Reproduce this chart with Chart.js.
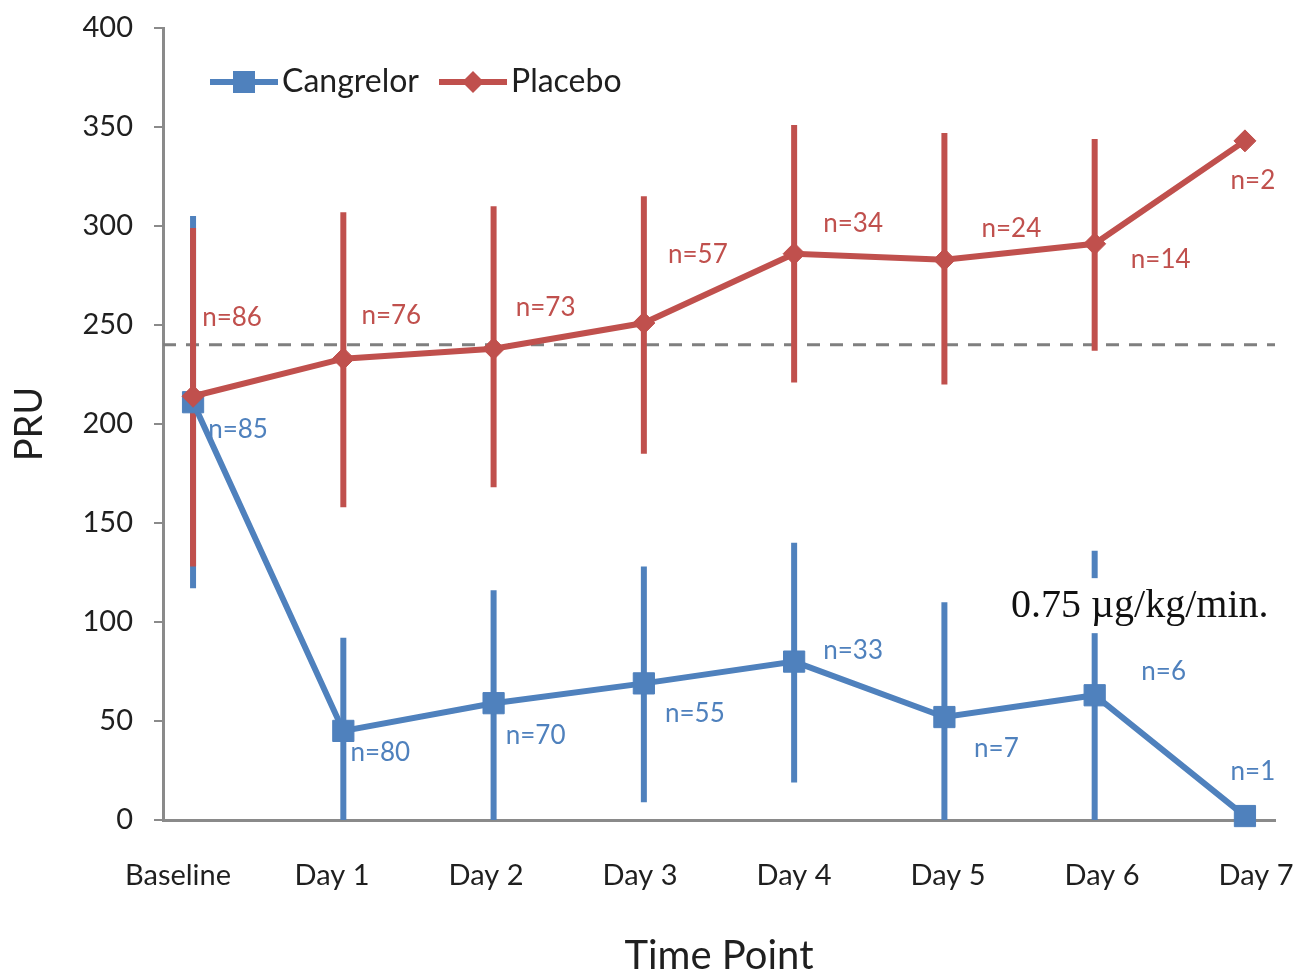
<!DOCTYPE html>
<html>
<head>
<meta charset="utf-8">
<title>PRU by time point</title>
<script src="https://cdn.jsdelivr.net/npm/chart.js@4.4.0/dist/chart.umd.min.js"></script>
<style>
  body { margin: 0; background: #fff; }
  #wrap { width: 1299px; height: 976px; }
</style>
</head>
<body>
<div id="wrap"><canvas id="myChart" width="1299" height="976"></canvas></div>
<script>
const timePoints = ["Baseline", "Day 1", "Day 2", "Day 3", "Day 4", "Day 5", "Day 6", "Day 7"];

// mean PRU with low / high whiskers, n per time point
const cangrelorPru  = [211, 45, 59, 69, 80, 52, 63, 2];
const cangrelorLow  = [117, 0, 0, 9, 19, 0, 0, null];
const cangrelorHigh = [305, 92, 116, 128, 140, 110, 136, null];
const cangrelorN    = [85, 80, 70, 55, 33, 7, 6, 1];

const placeboPru  = [214, 233, 238, 251, 286, 283, 291, 343];
const placeboLow  = [128, 158, 168, 185, 221, 220, 237, null];
const placeboHigh = [299, 307, 310, 315, 351, 347, 344, null];
const placeboN    = [86, 76, 73, 57, 34, 24, 14, 2];

const pruThreshold = 240;
const yMin = 0, yMax = 400, yStep = 50;
const doseNote = "0.75 \u00b5g/kg/min.";

const BLUE = "#4F81BD";
const RED = "#C0504D";
const TEXT = "#1f1f1f";
const AXIS = "#8a8a8a";

Chart.defaults.font.family = "Lato, 'Open Sans', sans-serif";
Chart.defaults.color = TEXT;

// where each "n=" label sits relative to its point (px)
const nLabelShift = {
  placebo:   [[39, -79], [48, -43], [52, -41], [54, -68], [59, -30], [67, -31], [66, 16], [8, 40]],
  cangrelor: [[45, 27], [37, 22], [42, 32], [51, 30], [59, -11], [52, 32], [69, -24], [8, -44]]
};
const notePos = { x: 6.3, y: 108 };

const extras = {
  id: "extras",
  beforeDatasetsDraw(chart) {
    const { ctx, chartArea, scales: { x, y } } = chart;
    ctx.save();
    // threshold line
    const ty = y.getPixelForValue(pruThreshold);
    ctx.strokeStyle = "#7f7f7f";
    ctx.lineWidth = 3;
    ctx.setLineDash([13, 10]);
    ctx.beginPath();
    ctx.moveTo(chartArea.left, ty);
    ctx.lineTo(chartArea.right, ty);
    ctx.stroke();
    ctx.setLineDash([]);

    // whiskers
    ctx.lineWidth = 6;
    [[cangrelorLow, cangrelorHigh, BLUE], [placeboLow, placeboHigh, RED]].forEach(([lo, hi, col]) => {
      ctx.strokeStyle = col;
      lo.forEach((v, i) => {
        if (v == null) return;
        const px = x.getPixelForValue(i);
        ctx.beginPath();
        ctx.moveTo(px, y.getPixelForValue(v));
        ctx.lineTo(px, y.getPixelForValue(hi[i]));
        ctx.stroke();
      });
    });
    ctx.restore();
  },
  afterDatasetsDraw(chart) {
    const { ctx, chartArea, scales: { x, y } } = chart;
    ctx.save();

    // n= labels
    ctx.font = "26px Lato";
    ctx.textAlign = "center";
    ctx.textBaseline = "middle";
    const putN = (vals, ns, shift, col) => {
      ctx.fillStyle = col;
      vals.forEach((v, i) => {
        const px = x.getPixelForValue(i) + shift[i][0];
        const py = y.getPixelForValue(v) + shift[i][1];
        ctx.fillText("n=" + ns[i], px, py);
      });
    };
    putN(placeboPru, placeboN, nLabelShift.placebo, RED);
    putN(cangrelorPru, cangrelorN, nLabelShift.cangrelor, BLUE);

    // dose note on a white box
    const nx = x.getPixelForValue(notePos.x);
    const ny = y.getPixelForValue(notePos.y);
    ctx.font = "40px 'Liberation Serif', 'DejaVu Serif', serif";
    const w = ctx.measureText(doseNote).width;
    ctx.fillStyle = "#fff";
    ctx.fillRect(nx - w / 2 - 6, ny - 28, w + 12, 55);
    ctx.fillStyle = "#111";
    ctx.fillText(doseNote, nx, ny);

    // legend inside the plot
    const ly = chartArea.top + 54;
    let lx = chartArea.left + 47;
    ctx.font = "32px Lato";
    ctx.textAlign = "left";
    ctx.lineWidth = 6;
    [["Cangrelor", BLUE, "square"], ["Placebo", RED, "diamond"]].forEach(([name, col, shape]) => {
      ctx.strokeStyle = col;
      ctx.fillStyle = col;
      ctx.beginPath();
      ctx.moveTo(lx, ly);
      ctx.lineTo(lx + 68, ly);
      ctx.stroke();
      const cx = lx + 34;
      ctx.beginPath();
      if (shape === "square") {
        ctx.rect(cx - 11, ly - 11, 22, 22);
      } else {
        ctx.moveTo(cx, ly - 11);
        ctx.lineTo(cx + 11, ly);
        ctx.lineTo(cx, ly + 11);
        ctx.lineTo(cx - 11, ly);
        ctx.closePath();
      }
      ctx.fill();
      ctx.fillStyle = TEXT;
      ctx.fillText(name, lx + 72, ly);
      lx += 72 + ctx.measureText(name).width + 20;
    });
    ctx.restore();
  }
};

const ctx = document.getElementById("myChart");

new Chart(ctx, {
  type: "line",
  data: {
    datasets: [
      {
        label: "Cangrelor",
        data: cangrelorPru.map((v, i) => ({ x: i, y: v })),
        borderColor: BLUE,
        backgroundColor: BLUE,
        borderWidth: 6,
        pointStyle: "rect",
        pointRadius: 15,
        pointBorderWidth: 1,
        pointBackgroundColor: BLUE,
        pointBorderColor: BLUE,
        order: 1,
        clip: false
      },
      {
        label: "Placebo",
        data: placeboPru.map((v, i) => ({ x: i, y: v })),
        borderColor: RED,
        backgroundColor: RED,
        borderWidth: 6,
        pointStyle: "rectRot",
        pointRadius: 11,
        pointBorderWidth: 1,
        pointBackgroundColor: RED,
        pointBorderColor: RED,
        order: 0,
        clip: false
      }
    ]
  },
  options: {
    responsive: false,
    animation: false,
    layout: { padding: { left: 0, top: 28, right: 24, bottom: 0 } },
    plugins: {
      legend: { display: false },
      tooltip: { enabled: false }
    },
    scales: {
      x: {
        type: "linear",
        display: false,
        min: -0.2,
        max: 7.2
      },
      xl: {
        type: "linear",
        position: "bottom",
        min: -0.0974,
        max: 7.123,
        grid: { display: false, drawTicks: false },
        border: { display: true, color: AXIS, width: 3 },
        ticks: {
          stepSize: 1,
          includeBounds: false,
          autoSkip: false,
          maxRotation: 0,
          padding: 38,
          font: { size: 29 },
          color: TEXT,
          callback: (v) => timePoints[v] ?? ""
        },
        title: {
          display: true,
          text: "Time Point",
          font: { size: 40, lineHeight: 1 },
          color: TEXT,
          padding: { top: 0, bottom: 0 }
        },
        afterFit: (s) => {
          s.height = 156;
          s.paddingLeft = 0;
          s.paddingRight = 0;
        }
      },
      y: {
        min: yMin,
        max: yMax,
        ticks: { stepSize: yStep, padding: 21, font: { size: 29 }, color: TEXT },
        grid: { drawOnChartArea: false, drawTicks: true, tickLength: 9, color: AXIS, lineWidth: 2 },
        border: { display: true, color: AXIS, width: 3 },
        title: {
          display: true,
          text: "PRU",
          font: { size: 38, lineHeight: 1.2 },
          color: TEXT,
          padding: { top: 7, bottom: 0 }
        },
        afterFit: (s) => {
          s.width = 163;
          s.paddingTop = 0;
          s.paddingBottom = 0;
        }
      }
    }
  },
  plugins: [extras]
});
</script>
</body>
</html>
